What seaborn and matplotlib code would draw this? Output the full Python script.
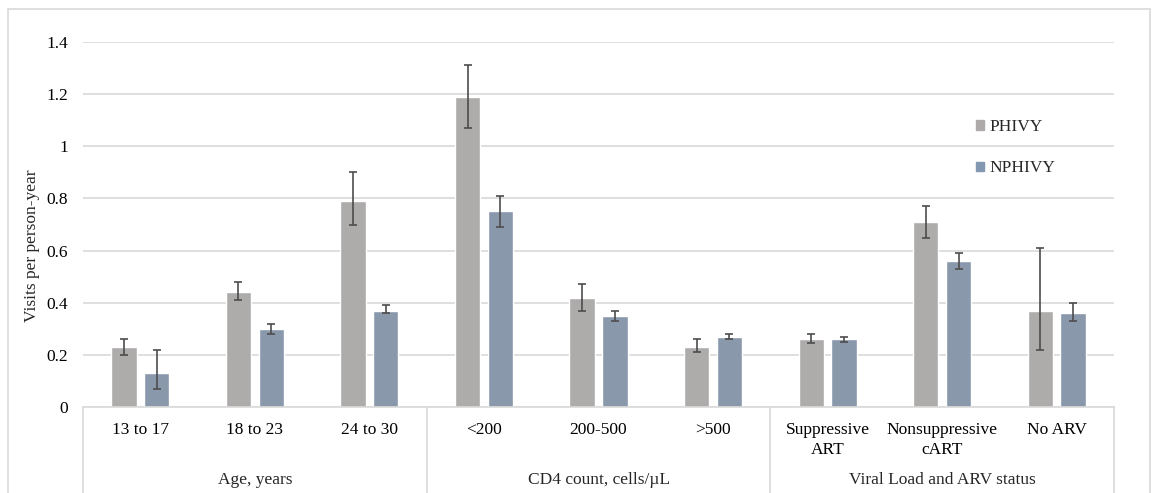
import numpy as np
import pandas as pd
import matplotlib
matplotlib.use("Agg")
import matplotlib.pyplot as plt
import matplotlib.transforms as mtransforms
from matplotlib.patches import Rectangle
import seaborn as sns

# values
categories = ["13 to 17", "18 to 23", "24 to 30",
              "<200", "200-500", ">500",
              "Suppressive\nART", "Nonsuppressive\ncART", "No ARV"]
groups = ["Age, years", "CD4 count, cells/\u00b5L", "Viral Load and ARV status"]
series = ["PHIVY", "NPHIVY"]

phivy = [0.23, 0.44, 0.79, 1.19, 0.42, 0.23, 0.26, 0.71, 0.37]
phivy_lo = [0.20, 0.41, 0.70, 1.07, 0.37, 0.21, 0.245, 0.65, 0.22]
phivy_hi = [0.26, 0.48, 0.90, 1.31, 0.47, 0.26, 0.28, 0.77, 0.61]

nphivy = [0.13, 0.30, 0.37, 0.75, 0.35, 0.27, 0.26, 0.56, 0.36]
nphivy_lo = [0.07, 0.28, 0.36, 0.69, 0.33, 0.26, 0.25, 0.53, 0.33]
nphivy_hi = [0.22, 0.32, 0.39, 0.81, 0.37, 0.28, 0.27, 0.59, 0.40]

colors = {"PHIVY": "#AEAAAA", "NPHIVY": "#8497B0"}

df = pd.DataFrame({
    "category": categories * 2,
    "series": ["PHIVY"] * len(categories) + ["NPHIVY"] * len(categories),
    "value": phivy + nphivy,
    "lo": phivy_lo + nphivy_lo,
    "hi": phivy_hi + nphivy_hi,
})

sns.set_style("white")
plt.rcParams["font.family"] = ["Liberation Serif", "DejaVu Serif"]

fig = plt.figure(figsize=(11.57, 4.93), dpi=100)
ax = fig.add_axes([83 / 1157, 1 - 407 / 493, 1031 / 1157, 365 / 493])

sns.barplot(data=df, x="category", y="value", hue="series", order=categories,
            hue_order=series, palette=colors, width=0.573, gap=0.23,
            errorbar=None, legend=False, ax=ax, zorder=2)

# error bars at the bar centres seaborn used
for container, name in zip(ax.containers, series):
    sub = df[df["series"] == name]
    xs = [p.get_x() + p.get_width() / 2 for p in container.patches]
    vals = sub["value"].to_numpy()
    yerr = [vals - sub["lo"].to_numpy(), sub["hi"].to_numpy() - vals]
    ax.errorbar(xs, vals, yerr=yerr, fmt="none", ecolor="#4D4D4D",
                elinewidth=1.2, capsize=3, capthick=1.2, zorder=3)

ax.set_ylim(0, 1.4)
ax.set_xlim(-0.5, len(categories) - 0.5)
ax.set_yticks(np.arange(0, 1.41, 0.2))
ax.set_yticklabels(["0", "0.2", "0.4", "0.6", "0.8", "1", "1.2", "1.4"])
ax.yaxis.grid(True, color="#D9D9D9", linewidth=1.2, zorder=0)
ax.set_axisbelow(True)
for s in ["top", "right", "left"]:
    ax.spines[s].set_visible(False)
ax.spines["bottom"].set_color("#D9D9D9")
ax.spines["bottom"].set_linewidth(1.2)
ax.tick_params(axis="both", length=0, labelsize=12.5, colors="#000000")
ax.tick_params(axis="x", pad=11)
ax.tick_params(axis="y", pad=11)
for lab in ax.get_xticklabels():
    lab.set_linespacing(1.3)
ax.set_xlabel("")
ax.set_ylabel("Visits per person-year", fontsize=12.5)
ax.yaxis.set_label_coords(-51 / 1031, (407 - 246) / 365)
ax.yaxis.label.set_va("center")

# group dividers and group labels under the axis
trans = mtransforms.blended_transform_factory(ax.transData, ax.transAxes)
for xd in [-0.5, 2.5, 5.5, 8.5]:
    ax.plot([xd, xd], [0, -0.235], transform=trans, color="#D9D9D9",
            linewidth=1.2, clip_on=False)
for i, g in enumerate(groups):
    ax.text(3 * i + 1, -0.2, g, transform=trans, ha="center", va="center",
            fontsize=12.5)

# legend
handles = [Rectangle((0, 0), 1, 1, color=colors[s]) for s in series]
ax.legend(handles, series, loc="upper left", bbox_to_anchor=(0.851, 0.831),
          frameon=False, fontsize=12.5, handlelength=0.45, handleheight=0.45,
          handletextpad=0.35, labelspacing=1.45)

# outer chart border
fig.patches.append(Rectangle((8 / 1157, -0.01), 1142 / 1157, 1 - 9 / 493 + 0.01,
                             transform=fig.transFigure, fill=False,
                             edgecolor="#D9D9D9", linewidth=1.2))

fig.savefig("out.png", dpi=100)
